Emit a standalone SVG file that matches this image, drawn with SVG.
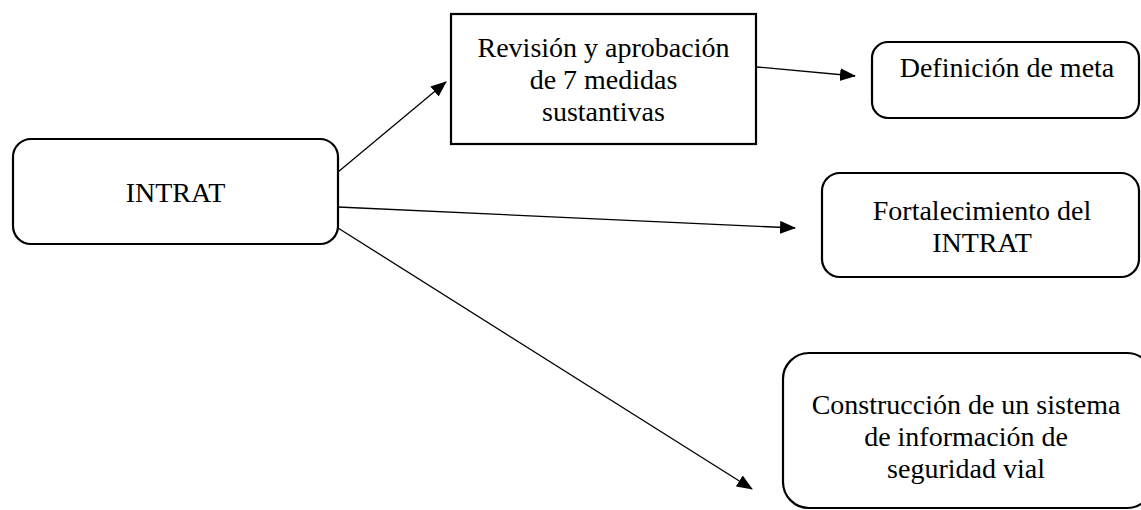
<svg xmlns="http://www.w3.org/2000/svg" width="1141" height="510" viewBox="0 0 1141 510">
<style>
.box{fill:#fff;stroke:#000;stroke-width:2.2}
.t{font-family:"Liberation Serif","Times New Roman",serif;font-size:28px;fill:#000;text-anchor:middle}
.c{stroke:#000;stroke-width:1.3;fill:none;marker-end:url(#ah)}
</style>
<defs>
<marker id="ah" markerUnits="userSpaceOnUse" markerWidth="16" markerHeight="14" refX="15" refY="6.5" orient="auto">
<path d="M0,0 L16,6.5 L0,13 z" fill="#000"/>
</marker>
</defs>
<rect width="1141" height="510" fill="#fff"/>
<g id="connectors">
<line class="c" x1="338" y1="172" x2="446" y2="82"/>
<line class="c" x1="757" y1="67" x2="855" y2="76"/>
<line class="c" x1="338" y1="207" x2="795" y2="228"/>
<line class="c" x1="338" y1="228" x2="752" y2="489"/>
</g>
<g id="n-intrat">
<rect class="box" x="13" y="139" width="325" height="105" rx="18"/>
<text class="t" x="175.5" y="202">INTRAT</text>
</g>
<g id="n-revision">
<rect class="box" x="451" y="14" width="305" height="130"/>
<text class="t" x="603.5" y="57">Revisión y aprobación</text>
<text class="t" x="603.5" y="89">de 7 medidas</text>
<text class="t" x="603.5" y="121">sustantivas</text>
</g>
<g id="n-meta">
<rect class="box" x="872" y="42" width="267" height="76" rx="16"/>
<text class="t" x="1007" y="77">Definición de meta</text>
</g>
<g id="n-fortalecimiento">
<rect class="box" x="822" y="173" width="317" height="104" rx="18"/>
<text class="t" x="982" y="220">Fortalecimiento del</text>
<text class="t" x="982" y="252">INTRAT</text>
</g>
<g id="n-construccion">
<rect class="box" x="783" y="353" width="370" height="155" rx="26"/>
<text class="t" x="966" y="414">Construcción de un sistema</text>
<text class="t" x="966" y="446">de información de</text>
<text class="t" x="966" y="478">seguridad vial</text>
</g>
</svg>
